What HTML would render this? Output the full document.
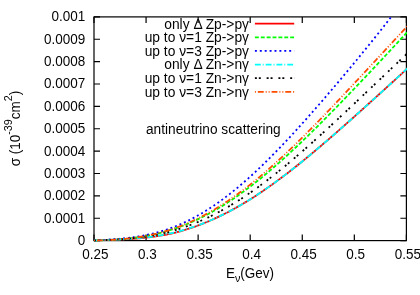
<!DOCTYPE html>
<html><head><meta charset="utf-8"><title>plot</title>
<style>
html,body{margin:0;padding:0;background:#fff;}
body{width:420px;height:295px;overflow:hidden;}
svg{display:block;}
text{font-family:"Liberation Sans",sans-serif;font-size:13.5px;fill:#000;}
</style></head><body>
<svg width="420" height="295" viewBox="0 0 420 295">
<rect width="420" height="295" fill="#fff"/>
<defs><clipPath id="c"><rect x="93.4" y="16.299999999999997" width="313.59999999999997" height="225.1"/></clipPath></defs>
<path d="M94.00,240.6 v-6 M94.00,16.9 v6 M146.07,240.6 v-6 M146.07,16.9 v6 M198.13,240.6 v-6 M198.13,16.9 v6 M250.20,240.6 v-6 M250.20,16.9 v6 M302.27,240.6 v-6 M302.27,16.9 v6 M354.33,240.6 v-6 M354.33,16.9 v6 M406.40,240.6 v-6 M406.40,16.9 v6 M94.0,240.60 h6 M406.4,240.60 h-6 M94.0,218.23 h6 M406.4,218.23 h-6 M94.0,195.86 h6 M406.4,195.86 h-6 M94.0,173.49 h6 M406.4,173.49 h-6 M94.0,151.12 h6 M406.4,151.12 h-6 M94.0,128.75 h6 M406.4,128.75 h-6 M94.0,106.38 h6 M406.4,106.38 h-6 M94.0,84.01 h6 M406.4,84.01 h-6 M94.0,61.64 h6 M406.4,61.64 h-6 M94.0,39.27 h6 M406.4,39.27 h-6 M94.0,16.90 h6 M406.4,16.90 h-6" stroke="#000" stroke-width="1.2" fill="none"/>
<rect x="94.0" y="16.9" width="312.4" height="223.7" fill="none" stroke="#000" stroke-width="1.2"/>
<g clip-path="url(#c)" fill="none" stroke-linecap="butt" stroke-linejoin="round">
<path d="M94.00,240.60 L95.58,240.52 L97.16,240.44 L98.74,240.36 L100.32,240.29 L101.90,240.22 L103.48,240.16 L105.06,240.09 L106.64,240.03 L108.22,239.97 L109.80,239.91 L111.38,239.84 L112.96,239.78 L114.54,239.72 L116.12,239.65 L117.70,239.59 L119.28,239.52 L120.86,239.44 L122.44,239.37 L124.02,239.29 L125.60,239.21 L127.18,239.13 L128.76,239.04 L130.34,238.94 L131.92,238.84 L133.50,238.74 L135.08,238.62 L136.66,238.51 L138.24,238.38 L139.82,238.25 L141.40,238.11 L142.98,237.97 L144.56,237.81 L146.14,237.65 L147.72,237.48 L149.30,237.29 L150.88,237.10 L152.46,236.90 L154.04,236.69 L155.62,236.46 L157.20,236.23 L158.78,235.98 L160.36,235.72 L161.94,235.45 L163.52,235.16 L165.10,234.86 L166.68,234.55 L168.26,234.22 L169.84,233.88 L171.42,233.53 L172.99,233.16 L174.57,232.78 L176.15,232.38 L177.73,231.97 L179.31,231.55 L180.89,231.11 L182.47,230.66 L184.05,230.19 L185.63,229.71 L187.21,229.22 L188.79,228.72 L190.37,228.20 L191.95,227.66 L193.53,227.12 L195.11,226.56 L196.69,225.99 L198.27,225.40 L199.85,224.81 L201.43,224.20 L203.01,223.58 L204.59,222.94 L206.17,222.29 L207.75,221.64 L209.33,220.96 L210.91,220.28 L212.49,219.58 L214.07,218.87 L215.65,218.15 L217.23,217.42 L218.81,216.67 L220.39,215.91 L221.97,215.14 L223.55,214.36 L225.13,213.56 L226.71,212.76 L228.29,211.94 L229.87,211.10 L231.45,210.26 L233.03,209.40 L234.61,208.53 L236.19,207.65 L237.77,206.76 L239.35,205.85 L240.93,204.93 L242.51,204.01 L244.09,203.07 L245.67,202.11 L247.25,201.15 L248.83,200.17 L250.41,199.19 L251.99,198.19 L253.57,197.18 L255.15,196.16 L256.73,195.13 L258.31,194.09 L259.89,193.04 L261.47,191.97 L263.05,190.90 L264.63,189.82 L266.21,188.73 L267.79,187.62 L269.37,186.51 L270.95,185.39 L272.53,184.26 L274.11,183.12 L275.69,181.97 L277.27,180.81 L278.85,179.64 L280.43,178.47 L282.01,177.28 L283.59,176.09 L285.17,174.89 L286.75,173.68 L288.33,172.46 L289.91,171.24 L291.49,170.00 L293.07,168.77 L294.65,167.52 L296.23,166.26 L297.81,165.00 L299.39,163.74 L300.97,162.46 L302.55,161.18 L304.13,159.90 L305.71,158.60 L307.29,157.30 L308.87,156.00 L310.45,154.69 L312.03,153.37 L313.61,152.05 L315.19,150.73 L316.77,149.39 L318.35,148.06 L319.93,146.72 L321.51,145.37 L323.09,144.02 L324.67,142.67 L326.25,141.31 L327.83,139.95 L329.41,138.58 L330.98,137.21 L332.56,135.84 L334.14,134.46 L335.72,133.08 L337.30,131.70 L338.88,130.31 L340.46,128.92 L342.04,127.53 L343.62,126.14 L345.20,124.74 L346.78,123.34 L348.36,121.94 L349.94,120.53 L351.52,119.12 L353.10,117.72 L354.68,116.30 L356.26,114.89 L357.84,113.48 L359.42,112.06 L361.00,110.64 L362.58,109.22 L364.16,107.80 L365.74,106.38 L367.32,104.96 L368.90,103.53 L370.48,102.10 L372.06,100.68 L373.64,99.25 L375.22,97.82 L376.80,96.39 L378.38,94.96 L379.96,93.52 L381.54,92.09 L383.12,90.65 L384.70,89.22 L386.28,87.78 L387.86,86.34 L389.44,84.90 L391.02,83.46 L392.60,82.02 L394.18,80.58 L395.76,79.14 L397.34,77.69 L398.92,76.25 L400.50,74.80 L402.08,73.35 L403.66,71.90 L405.24,70.45 L406.82,69.00 L408.40,67.55" stroke="#ff0000" stroke-width="1.8"/>
<path d="M94.00,240.60 L95.58,240.54 L97.16,240.48 L98.74,240.42 L100.32,240.36 L101.90,240.29 L103.48,240.23 L105.06,240.16 L106.64,240.08 L108.22,240.01 L109.80,239.93 L111.38,239.84 L112.96,239.75 L114.54,239.65 L116.12,239.55 L117.70,239.44 L119.28,239.32 L120.86,239.20 L122.44,239.07 L124.02,238.93 L125.60,238.78 L127.18,238.63 L128.76,238.46 L130.34,238.29 L131.92,238.11 L133.50,237.91 L135.08,237.71 L136.66,237.50 L138.24,237.27 L139.82,237.04 L141.40,236.79 L142.98,236.53 L144.56,236.26 L146.14,235.98 L147.72,235.69 L149.30,235.38 L150.88,235.07 L152.46,234.74 L154.04,234.39 L155.62,234.04 L157.20,233.67 L158.78,233.28 L160.36,232.89 L161.94,232.48 L163.52,232.05 L165.10,231.61 L166.68,231.16 L168.26,230.70 L169.84,230.22 L171.42,229.72 L172.99,229.21 L174.57,228.69 L176.15,228.15 L177.73,227.60 L179.31,227.03 L180.89,226.45 L182.47,225.86 L184.05,225.24 L185.63,224.62 L187.21,223.98 L188.79,223.32 L190.37,222.65 L191.95,221.96 L193.53,221.26 L195.11,220.55 L196.69,219.81 L198.27,219.07 L199.85,218.31 L201.43,217.53 L203.01,216.74 L204.59,215.94 L206.17,215.12 L207.75,214.28 L209.33,213.43 L210.91,212.57 L212.49,211.69 L214.07,210.79 L215.65,209.89 L217.23,208.96 L218.81,208.03 L220.39,207.07 L221.97,206.11 L223.55,205.13 L225.13,204.14 L226.71,203.13 L228.29,202.11 L229.87,201.07 L231.45,200.02 L233.03,198.96 L234.61,197.89 L236.19,196.80 L237.77,195.70 L239.35,194.58 L240.93,193.45 L242.51,192.31 L244.09,191.16 L245.67,190.00 L247.25,188.82 L248.83,187.63 L250.41,186.43 L251.99,185.21 L253.57,183.98 L255.15,182.75 L256.73,181.50 L258.31,180.24 L259.89,178.97 L261.47,177.68 L263.05,176.39 L264.63,175.08 L266.21,173.77 L267.79,172.44 L269.37,171.11 L270.95,169.76 L272.53,168.41 L274.11,167.04 L275.69,165.67 L277.27,164.28 L278.85,162.89 L280.43,161.48 L282.01,160.07 L283.59,158.65 L285.17,157.22 L286.75,155.78 L288.33,154.34 L289.91,152.88 L291.49,151.42 L293.07,149.95 L294.65,148.47 L296.23,146.99 L297.81,145.50 L299.39,144.00 L300.97,142.49 L302.55,140.98 L304.13,139.46 L305.71,137.93 L307.29,136.40 L308.87,134.86 L310.45,133.32 L312.03,131.77 L313.61,130.21 L315.19,128.65 L316.77,127.09 L318.35,125.51 L319.93,123.94 L321.51,122.36 L323.09,120.77 L324.67,119.18 L326.25,117.58 L327.83,115.98 L329.41,114.38 L330.98,112.77 L332.56,111.16 L334.14,109.54 L335.72,107.92 L337.30,106.30 L338.88,104.68 L340.46,103.05 L342.04,101.41 L343.62,99.78 L345.20,98.14 L346.78,96.50 L348.36,94.85 L349.94,93.21 L351.52,91.56 L353.10,89.90 L354.68,88.25 L356.26,86.59 L357.84,84.93 L359.42,83.27 L361.00,81.61 L362.58,79.94 L364.16,78.27 L365.74,76.60 L367.32,74.93 L368.90,73.26 L370.48,71.59 L372.06,69.91 L373.64,68.23 L375.22,66.55 L376.80,64.87 L378.38,63.18 L379.96,61.50 L381.54,59.81 L383.12,58.12 L384.70,56.43 L386.28,54.74 L387.86,53.05 L389.44,51.35 L391.02,49.65 L392.60,47.95 L394.18,46.25 L395.76,44.55 L397.34,42.84 L398.92,41.14 L400.50,39.43 L402.08,37.72 L403.66,36.00 L405.24,34.29 L406.82,32.57 L408.40,30.85" stroke="#00ff00" stroke-width="1.8" stroke-dasharray="3.888,1.944"/>
<path d="M94.00,240.60 L95.58,240.48 L97.16,240.37 L98.74,240.26 L100.32,240.15 L101.90,240.05 L103.48,239.94 L105.06,239.84 L106.64,239.73 L108.22,239.63 L109.80,239.52 L111.38,239.41 L112.96,239.29 L114.54,239.18 L116.12,239.05 L117.70,238.92 L119.28,238.79 L120.86,238.65 L122.44,238.50 L124.02,238.34 L125.60,238.18 L127.18,238.00 L128.76,237.82 L130.34,237.62 L131.92,237.42 L133.50,237.21 L135.08,236.98 L136.66,236.74 L138.24,236.49 L139.82,236.23 L141.40,235.96 L142.98,235.67 L144.56,235.37 L146.14,235.05 L147.72,234.72 L149.30,234.37 L150.88,234.01 L152.46,233.64 L154.04,233.25 L155.62,232.84 L157.20,232.42 L158.78,231.98 L160.36,231.53 L161.94,231.05 L163.52,230.57 L165.10,230.06 L166.68,229.54 L168.26,229.00 L169.84,228.44 L171.42,227.86 L172.99,227.27 L174.57,226.66 L176.15,226.03 L177.73,225.39 L179.31,224.72 L180.89,224.04 L182.47,223.34 L184.05,222.62 L185.63,221.88 L187.21,221.12 L188.79,220.35 L190.37,219.55 L191.95,218.74 L193.53,217.91 L195.11,217.06 L196.69,216.19 L198.27,215.31 L199.85,214.41 L201.43,213.48 L203.01,212.54 L204.59,211.59 L206.17,210.61 L207.75,209.62 L209.33,208.60 L210.91,207.57 L212.49,206.53 L214.07,205.46 L215.65,204.38 L217.23,203.28 L218.81,202.16 L220.39,201.03 L221.97,199.88 L223.55,198.71 L225.13,197.53 L226.71,196.33 L228.29,195.11 L229.87,193.88 L231.45,192.63 L233.03,191.36 L234.61,190.08 L236.19,188.79 L237.77,187.48 L239.35,186.15 L240.93,184.81 L242.51,183.45 L244.09,182.08 L245.67,180.70 L247.25,179.30 L248.83,177.89 L250.41,176.46 L251.99,175.02 L253.57,173.57 L255.15,172.10 L256.73,170.63 L258.31,169.14 L259.89,167.63 L261.47,166.12 L263.05,164.59 L264.63,163.05 L266.21,161.50 L267.79,159.94 L269.37,158.37 L270.95,156.78 L272.53,155.19 L274.11,153.58 L275.69,151.97 L277.27,150.34 L278.85,148.71 L280.43,147.07 L282.01,145.41 L283.59,143.75 L285.17,142.08 L286.75,140.40 L288.33,138.71 L289.91,137.02 L291.49,135.31 L293.07,133.60 L294.65,131.88 L296.23,130.16 L297.81,128.42 L299.39,126.68 L300.97,124.93 L302.55,123.18 L304.13,121.42 L305.71,119.65 L307.29,117.88 L308.87,116.10 L310.45,114.31 L312.03,112.52 L313.61,110.72 L315.19,108.92 L316.77,107.11 L318.35,105.30 L319.93,103.48 L321.51,101.66 L323.09,99.83 L324.67,98.00 L326.25,96.17 L327.83,94.32 L329.41,92.48 L330.98,90.63 L332.56,88.78 L334.14,86.92 L335.72,85.06 L337.30,83.19 L338.88,81.32 L340.46,79.45 L342.04,77.57 L343.62,75.69 L345.20,73.80 L346.78,71.91 L348.36,70.02 L349.94,68.12 L351.52,66.22 L353.10,64.31 L354.68,62.40 L356.26,60.49 L357.84,58.57 L359.42,56.65 L361.00,54.72 L362.58,52.79 L364.16,50.85 L365.74,48.91 L367.32,46.96 L368.90,45.01 L370.48,43.06 L372.06,41.10 L373.64,39.13 L375.22,37.16 L376.80,35.18 L378.38,33.19 L379.96,31.20 L381.54,29.20 L383.12,27.20 L384.70,25.18 L386.28,23.16 L387.86,21.14 L389.44,19.10 L391.02,17.05 L392.60,15.00 L394.18,12.94 L395.76,10.87 L397.34,8.78 L398.92,6.69 L400.50,4.59 L402.08,2.47 L403.66,0.35 L405.24,-1.79 L406.82,-3.94 L408.40,-6.11" stroke="#0000ff" stroke-width="1.8" stroke-dasharray="1.944,2.916"/>
<path d="M94.00,240.60 L95.58,240.52 L97.16,240.44 L98.74,240.36 L100.32,240.29 L101.90,240.22 L103.48,240.15 L105.06,240.09 L106.64,240.02 L108.22,239.96 L109.80,239.89 L111.38,239.83 L112.96,239.76 L114.54,239.69 L116.12,239.62 L117.70,239.55 L119.28,239.48 L120.86,239.40 L122.44,239.32 L124.02,239.23 L125.60,239.14 L127.18,239.05 L128.76,238.95 L130.34,238.84 L131.92,238.73 L133.50,238.61 L135.08,238.49 L136.66,238.35 L138.24,238.21 L139.82,238.07 L141.40,237.91 L142.98,237.75 L144.56,237.58 L146.14,237.40 L147.72,237.21 L149.30,237.01 L150.88,236.80 L152.46,236.58 L154.04,236.36 L155.62,236.12 L157.20,235.87 L158.78,235.61 L160.36,235.34 L161.94,235.06 L163.52,234.77 L165.10,234.46 L166.68,234.15 L168.26,233.82 L169.84,233.48 L171.42,233.13 L172.99,232.77 L174.57,232.40 L176.15,232.01 L177.73,231.61 L179.31,231.20 L180.89,230.77 L182.47,230.33 L184.05,229.88 L185.63,229.42 L187.21,228.94 L188.79,228.45 L190.37,227.95 L191.95,227.44 L193.53,226.91 L195.11,226.36 L196.69,225.81 L198.27,225.24 L199.85,224.66 L201.43,224.06 L203.01,223.46 L204.59,222.83 L206.17,222.20 L207.75,221.55 L209.33,220.89 L210.91,220.21 L212.49,219.53 L214.07,218.82 L215.65,218.11 L217.23,217.38 L218.81,216.64 L220.39,215.89 L221.97,215.12 L223.55,214.34 L225.13,213.55 L226.71,212.74 L228.29,211.92 L229.87,211.09 L231.45,210.25 L233.03,209.40 L234.61,208.53 L236.19,207.65 L237.77,206.75 L239.35,205.85 L240.93,204.93 L242.51,204.00 L244.09,203.06 L245.67,202.11 L247.25,201.15 L248.83,200.17 L250.41,199.19 L251.99,198.19 L253.57,197.18 L255.15,196.16 L256.73,195.13 L258.31,194.09 L259.89,193.04 L261.47,191.97 L263.05,190.90 L264.63,189.82 L266.21,188.73 L267.79,187.62 L269.37,186.51 L270.95,185.39 L272.53,184.26 L274.11,183.12 L275.69,181.97 L277.27,180.81 L278.85,179.64 L280.43,178.47 L282.01,177.28 L283.59,176.09 L285.17,174.89 L286.75,173.68 L288.33,172.46 L289.91,171.24 L291.49,170.00 L293.07,168.77 L294.65,167.52 L296.23,166.26 L297.81,165.00 L299.39,163.74 L300.97,162.46 L302.55,161.18 L304.13,159.90 L305.71,158.60 L307.29,157.30 L308.87,156.00 L310.45,154.69 L312.03,153.37 L313.61,152.05 L315.19,150.73 L316.77,149.39 L318.35,148.06 L319.93,146.72 L321.51,145.37 L323.09,144.02 L324.67,142.67 L326.25,141.31 L327.83,139.95 L329.41,138.58 L330.98,137.21 L332.56,135.84 L334.14,134.46 L335.72,133.08 L337.30,131.70 L338.88,130.31 L340.46,128.92 L342.04,127.53 L343.62,126.14 L345.20,124.74 L346.78,123.34 L348.36,121.94 L349.94,120.53 L351.52,119.12 L353.10,117.72 L354.68,116.30 L356.26,114.89 L357.84,113.48 L359.42,112.06 L361.00,110.64 L362.58,109.22 L364.16,107.80 L365.74,106.38 L367.32,104.96 L368.90,103.53 L370.48,102.10 L372.06,100.68 L373.64,99.25 L375.22,97.82 L376.80,96.39 L378.38,94.96 L379.96,93.52 L381.54,92.09 L383.12,90.65 L384.70,89.22 L386.28,87.78 L387.86,86.34 L389.44,84.90 L391.02,83.46 L392.60,82.02 L394.18,80.58 L395.76,79.14 L397.34,77.69 L398.92,76.25 L400.50,74.80 L402.08,73.35 L403.66,71.90 L405.24,70.45 L406.82,69.00 L408.40,67.55" stroke="#00ffff" stroke-width="1.8" stroke-dasharray="5.832,1.944,0.972,1.944"/>
<path d="M94.00,240.60 L95.58,240.52 L97.16,240.44 L98.74,240.37 L100.32,240.29 L101.90,240.22 L103.48,240.14 L105.06,240.07 L106.64,239.99 L108.22,239.91 L109.80,239.84 L111.38,239.75 L112.96,239.67 L114.54,239.58 L116.12,239.49 L117.70,239.39 L119.28,239.29 L120.86,239.18 L122.44,239.07 L124.02,238.96 L125.60,238.83 L127.18,238.70 L128.76,238.56 L130.34,238.42 L131.92,238.27 L133.50,238.11 L135.08,237.94 L136.66,237.76 L138.24,237.58 L139.82,237.38 L141.40,237.18 L142.98,236.96 L144.56,236.74 L146.14,236.50 L147.72,236.26 L149.30,236.00 L150.88,235.73 L152.46,235.46 L154.04,235.17 L155.62,234.87 L157.20,234.55 L158.78,234.23 L160.36,233.89 L161.94,233.54 L163.52,233.18 L165.10,232.81 L166.68,232.42 L168.26,232.02 L169.84,231.61 L171.42,231.19 L172.99,230.75 L174.57,230.29 L176.15,229.83 L177.73,229.35 L179.31,228.86 L180.89,228.35 L182.47,227.83 L184.05,227.30 L185.63,226.75 L187.21,226.19 L188.79,225.62 L190.37,225.03 L191.95,224.42 L193.53,223.81 L195.11,223.18 L196.69,222.53 L198.27,221.87 L199.85,221.20 L201.43,220.51 L203.01,219.81 L204.59,219.10 L206.17,218.37 L207.75,217.62 L209.33,216.87 L210.91,216.10 L212.49,215.31 L214.07,214.52 L215.65,213.70 L217.23,212.88 L218.81,212.04 L220.39,211.19 L221.97,210.32 L223.55,209.44 L225.13,208.55 L226.71,207.64 L228.29,206.72 L229.87,205.79 L231.45,204.85 L233.03,203.89 L234.61,202.92 L236.19,201.94 L237.77,200.94 L239.35,199.93 L240.93,198.91 L242.51,197.88 L244.09,196.84 L245.67,195.78 L247.25,194.71 L248.83,193.63 L250.41,192.54 L251.99,191.44 L253.57,190.33 L255.15,189.20 L256.73,188.07 L258.31,186.92 L259.89,185.77 L261.47,184.60 L263.05,183.42 L264.63,182.23 L266.21,181.04 L267.79,179.83 L269.37,178.61 L270.95,177.39 L272.53,176.15 L274.11,174.91 L275.69,173.65 L277.27,172.39 L278.85,171.12 L280.43,169.84 L282.01,168.55 L283.59,167.26 L285.17,165.95 L286.75,164.64 L288.33,163.32 L289.91,162.00 L291.49,160.66 L293.07,159.32 L294.65,157.97 L296.23,156.62 L297.81,155.26 L299.39,153.89 L300.97,152.52 L302.55,151.14 L304.13,149.75 L305.71,148.36 L307.29,146.96 L308.87,145.56 L310.45,144.15 L312.03,142.74 L313.61,141.32 L315.19,139.90 L316.77,138.47 L318.35,137.04 L319.93,135.61 L321.51,134.17 L323.09,132.73 L324.67,131.28 L326.25,129.83 L327.83,128.37 L329.41,126.92 L330.98,125.46 L332.56,123.99 L334.14,122.53 L335.72,121.06 L337.30,119.59 L338.88,118.11 L340.46,116.64 L342.04,115.16 L343.62,113.68 L345.20,112.20 L346.78,110.71 L348.36,109.23 L349.94,107.74 L351.52,106.25 L353.10,104.76 L354.68,103.27 L356.26,101.78 L357.84,100.29 L359.42,98.79 L361.00,97.30 L362.58,95.80 L364.16,94.31 L365.74,92.81 L367.32,91.31 L368.90,89.81 L370.48,88.32 L372.06,86.82 L373.64,85.32 L375.22,83.82 L376.80,82.32 L378.38,80.82 L379.96,79.32 L381.54,77.82 L383.12,76.32 L384.70,74.82 L386.28,73.32 L387.86,71.82 L389.44,70.31 L391.02,68.81 L392.60,67.31 L394.18,65.81 L395.76,64.31 L397.34,62.81 L398.92,61.31 L400.50,59.81 L402.08,58.30 L403.66,56.80 L405.24,55.30 L406.82,53.79 L408.40,52.29" stroke="#000000" stroke-width="1.8" stroke-dasharray="1.944,1.944,1.944,5.832"/>
<path d="M94.00,240.60 L95.58,240.55 L97.16,240.50 L98.74,240.45 L100.32,240.39 L101.90,240.34 L103.48,240.27 L105.06,240.21 L106.64,240.14 L108.22,240.07 L109.80,239.99 L111.38,239.90 L112.96,239.81 L114.54,239.71 L116.12,239.61 L117.70,239.50 L119.28,239.38 L120.86,239.25 L122.44,239.12 L124.02,238.97 L125.60,238.82 L127.18,238.66 L128.76,238.49 L130.34,238.31 L131.92,238.12 L133.50,237.92 L135.08,237.70 L136.66,237.48 L138.24,237.25 L139.82,237.00 L141.40,236.74 L142.98,236.47 L144.56,236.19 L146.14,235.90 L147.72,235.59 L149.30,235.27 L150.88,234.94 L152.46,234.59 L154.04,234.23 L155.62,233.86 L157.20,233.47 L158.78,233.07 L160.36,232.66 L161.94,232.23 L163.52,231.79 L165.10,231.33 L166.68,230.86 L168.26,230.37 L169.84,229.87 L171.42,229.36 L172.99,228.82 L174.57,228.28 L176.15,227.72 L177.73,227.14 L179.31,226.55 L180.89,225.95 L182.47,225.32 L184.05,224.69 L185.63,224.04 L187.21,223.37 L188.79,222.69 L190.37,221.99 L191.95,221.27 L193.53,220.54 L195.11,219.80 L196.69,219.04 L198.27,218.27 L199.85,217.47 L201.43,216.67 L203.01,215.85 L204.59,215.01 L206.17,214.16 L207.75,213.29 L209.33,212.41 L210.91,211.51 L212.49,210.60 L214.07,209.67 L215.65,208.73 L217.23,207.77 L218.81,206.80 L220.39,205.81 L221.97,204.81 L223.55,203.79 L225.13,202.76 L226.71,201.72 L228.29,200.66 L229.87,199.58 L231.45,198.50 L233.03,197.39 L234.61,196.28 L236.19,195.15 L237.77,194.01 L239.35,192.85 L240.93,191.68 L242.51,190.50 L244.09,189.30 L245.67,188.09 L247.25,186.87 L248.83,185.64 L250.41,184.39 L251.99,183.13 L253.57,181.86 L255.15,180.58 L256.73,179.28 L258.31,177.97 L259.89,176.65 L261.47,175.32 L263.05,173.98 L264.63,172.63 L266.21,171.27 L267.79,169.89 L269.37,168.51 L270.95,167.11 L272.53,165.71 L274.11,164.29 L275.69,162.86 L277.27,161.43 L278.85,159.98 L280.43,158.53 L282.01,157.07 L283.59,155.59 L285.17,154.11 L286.75,152.62 L288.33,151.12 L289.91,149.62 L291.49,148.10 L293.07,146.58 L294.65,145.05 L296.23,143.51 L297.81,141.96 L299.39,140.41 L300.97,138.85 L302.55,137.28 L304.13,135.71 L305.71,134.13 L307.29,132.55 L308.87,130.95 L310.45,129.35 L312.03,127.75 L313.61,126.14 L315.19,124.53 L316.77,122.91 L318.35,121.28 L319.93,119.65 L321.51,118.02 L323.09,116.38 L324.67,114.74 L326.25,113.09 L327.83,111.44 L329.41,109.78 L330.98,108.12 L332.56,106.46 L334.14,104.80 L335.72,103.13 L337.30,101.46 L338.88,99.78 L340.46,98.10 L342.04,96.42 L343.62,94.74 L345.20,93.06 L346.78,91.37 L348.36,89.68 L349.94,87.99 L351.52,86.30 L353.10,84.61 L354.68,82.91 L356.26,81.22 L357.84,79.52 L359.42,77.82 L361.00,76.12 L362.58,74.42 L364.16,72.72 L365.74,71.02 L367.32,69.32 L368.90,67.62 L370.48,65.91 L372.06,64.21 L373.64,62.51 L375.22,60.80 L376.80,59.10 L378.38,57.40 L379.96,55.70 L381.54,53.99 L383.12,52.29 L384.70,50.59 L386.28,48.89 L387.86,47.19 L389.44,45.49 L391.02,43.79 L392.60,42.09 L394.18,40.39 L395.76,38.69 L397.34,36.99 L398.92,35.30 L400.50,33.60 L402.08,31.90 L403.66,30.21 L405.24,28.51 L406.82,26.82 L408.40,25.13" stroke="#ff4d00" stroke-width="1.8" stroke-dasharray="0.972,1.944,5.832,1.944,0.972,1.944"/>
</g>
<path d="M254.9,23.70 H294.2" stroke="#ff0000" stroke-width="1.8" fill="none"/>
<path d="M254.9,37.32 H294.2" stroke="#00ff00" stroke-width="1.8" fill="none" stroke-dasharray="3.920,1.960"/>
<path d="M254.9,50.94 H294.2" stroke="#0000ff" stroke-width="1.8" fill="none" stroke-dasharray="1.960,2.940"/>
<path d="M254.9,64.56 H294.2" stroke="#00ffff" stroke-width="1.8" fill="none" stroke-dasharray="5.880,1.960,0.980,1.960"/>
<path d="M254.9,78.18 H294.2" stroke="#000000" stroke-width="1.8" fill="none" stroke-dasharray="1.960,1.960,1.960,5.880"/>
<path d="M254.9,91.80 H294.2" stroke="#ff4d00" stroke-width="1.8" fill="none" stroke-dasharray="0.980,1.960,5.880,1.960,0.980,1.960"/>
<g opacity="0.99">
<text transform="translate(249.00,28.60) scale(1,1.08)" text-anchor="end" style="font-size:13.8px">only Δ Zp-&gt;pγ</text>
<text transform="translate(249.00,42.22) scale(1,1.08)" text-anchor="end" style="font-size:13.8px">up to ν=1 Zp-&gt;pγ</text>
<text transform="translate(249.00,55.84) scale(1,1.08)" text-anchor="end" style="font-size:13.8px">up to ν=3 Zp-&gt;pγ</text>
<text transform="translate(249.00,69.46) scale(1,1.08)" text-anchor="end" style="font-size:13.8px">only Δ Zn-&gt;nγ</text>
<text transform="translate(249.00,83.08) scale(1,1.08)" text-anchor="end" style="font-size:13.8px">up to ν=1 Zn-&gt;nγ</text>
<text transform="translate(249.00,96.70) scale(1,1.08)" text-anchor="end" style="font-size:13.8px">up to ν=3 Zn-&gt;nγ</text>
<text transform="translate(85.20,245.00) scale(1,1.08)" text-anchor="end" style="font-size:13.5px">0</text>
<text transform="translate(85.20,222.63) scale(1,1.08)" text-anchor="end" style="font-size:13.5px">0.0001</text>
<text transform="translate(85.20,200.26) scale(1,1.08)" text-anchor="end" style="font-size:13.5px">0.0002</text>
<text transform="translate(85.20,177.89) scale(1,1.08)" text-anchor="end" style="font-size:13.5px">0.0003</text>
<text transform="translate(85.20,155.52) scale(1,1.08)" text-anchor="end" style="font-size:13.5px">0.0004</text>
<text transform="translate(85.20,133.15) scale(1,1.08)" text-anchor="end" style="font-size:13.5px">0.0005</text>
<text transform="translate(85.20,110.78) scale(1,1.08)" text-anchor="end" style="font-size:13.5px">0.0006</text>
<text transform="translate(85.20,88.41) scale(1,1.08)" text-anchor="end" style="font-size:13.5px">0.0007</text>
<text transform="translate(85.20,66.04) scale(1,1.08)" text-anchor="end" style="font-size:13.5px">0.0008</text>
<text transform="translate(85.20,43.67) scale(1,1.08)" text-anchor="end" style="font-size:13.5px">0.0009</text>
<text transform="translate(85.20,21.30) scale(1,1.08)" text-anchor="end" style="font-size:13.5px">0.001</text>
<text transform="translate(95.40,259.20) scale(1,1.08)" text-anchor="middle" style="font-size:13.5px">0.25</text>
<text transform="translate(147.47,259.20) scale(1,1.08)" text-anchor="middle" style="font-size:13.5px">0.3</text>
<text transform="translate(199.53,259.20) scale(1,1.08)" text-anchor="middle" style="font-size:13.5px">0.35</text>
<text transform="translate(251.60,259.20) scale(1,1.08)" text-anchor="middle" style="font-size:13.5px">0.4</text>
<text transform="translate(303.67,259.20) scale(1,1.08)" text-anchor="middle" style="font-size:13.5px">0.45</text>
<text transform="translate(355.73,259.20) scale(1,1.08)" text-anchor="middle" style="font-size:13.5px">0.5</text>
<text transform="translate(407.80,259.20) scale(1,1.08)" text-anchor="middle" style="font-size:13.5px">0.55</text>
<text transform="translate(146.00,133.50) scale(1,1.08)" text-anchor="start" style="font-size:13.7px">antineutrino scattering</text>
<text transform="translate(250.00,277.50) scale(1,1.08)" text-anchor="middle" style="font-size:13.5px">E<tspan dy="4" style="font-size:10.80px">ν</tspan><tspan dy="-4">(Gev)</tspan></text>
<text transform="translate(20.10,128.50) rotate(-90) scale(1,1.08)" text-anchor="middle" style="font-size:13.5px">σ (10<tspan dy="-7.5" style="font-size:10.80px">-39</tspan><tspan dy="7.5">cm</tspan><tspan dy="-7.5" style="font-size:10.80px">2</tspan><tspan dy="7.5">)</tspan></text>
</g>
</svg></body></html>
